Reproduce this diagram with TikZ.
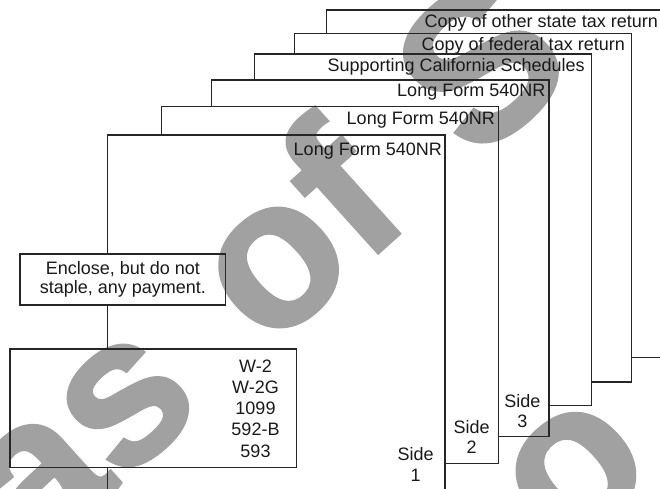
\documentclass[tikz,border=0pt]{standalone}
\usepackage{fontspec}
\setmainfont{Liberation Sans}
\newfontfamily\wmfont{Liberation Sans}[WordSpace=1.4, BoldFeatures={FakeBold=1.5}]
\begin{document}
\begin{tikzpicture}[x=1pt, y=-1pt,
    page/.style={line width=1.1pt, draw=black!85},
    pagetext/.style={font=\fontsize{18}{21}\selectfont, text=black!90, inner sep=0pt, anchor=base east},
    sidetext/.style={font=\fontsize{18}{20.5}\selectfont, text=black!90, inner sep=0pt, anchor=north, align=center},
    infobox/.style={draw=black!85, line width=1.1pt, text=black!90, align=center},
    watermark/.style={font=\fontsize{210}{210}\selectfont\wmfont\bfseries, text=black!37, rotate=42, inner sep=0pt}]
    \useasboundingbox (0,0) rectangle (660,488);
    \clip (0,0) rectangle (660,488);

    % Wasserzeichen
    \node[watermark] (wm1) at (257,261) {as of S};
    \node[watermark] (wm2) at (576,473) {o};

    % Blatt 6 (hinten)
    \draw[page] (326.7,33.3) -- (326.7,10) -- (665,10) -- (665,357.3) -- (631.7,357.3);
    \node[pagetext] (t6) at (658,27) {Copy of other state tax return};

    % Blatt 5
    \draw[page] (294.3,54) -- (294.3,33.3) -- (631.7,33.3) -- (631.7,382) -- (591.7,382);
    \node[pagetext] (t5) at (625,50.5) {Copy of federal tax return};

    % Blatt 4
    \draw[page] (254.3,80) -- (254.3,54) -- (591.7,54) -- (591.7,405.7) -- (549,405.7);
    \node[pagetext] (t4) at (585,71) {Supporting California Schedules};

    % Blatt 3
    \draw[page] (211.7,106.7) -- (211.7,80) -- (549,80) -- (549,436.3) -- (498.3,436.3);
    \node[pagetext] (t3) at (545.5,96.5) {Long Form 540NR};
    \node[sidetext] (s3) at (522.3,394.1) {Side\\3};

    % Blatt 2
    \draw[page] (161.3,135) -- (161.3,106.7) -- (498.3,106.7) -- (498.3,463.3) -- (445,463.3);
    \node[pagetext] (t2) at (495,124) {Long Form 540NR};
    \node[sidetext] (s2) at (471.7,420.1) {Side\\2};

    % Blatt 1 (vorne)
    \coordinate (p1) at (107.3,135);
    \node[pagetext] (t1) at (442,155) {Long Form 540NR};
    \node[sidetext] (s1) at (415.7,447.5) {Side\\1};

    % Hinweis und Formulare
    \node[infobox, font=\fontsize{18}{19}\selectfont, minimum width=205.7, minimum height=51] (enclose) at (122.85,279.5) {Enclose, but do not\\staple, any payment.};
    \node[infobox, minimum width=286.7, minimum height=118.3] (formbox) at (153.35,408.15) {};
    \node[sidetext, font=\fontsize{18}{21.25}\selectfont] (formlist) at (255.5,359.4) {W-2\\W-2G\\1099\\592-B\\593};

    \draw[page] (p1 |- enclose.north) -- (p1) -- (445,135) -- (445,495);
    \draw[page] (enclose.south -| p1) -- (formbox.north -| p1);
    \draw[page] (formbox.south -| p1) -- (107.3,495);
\end{tikzpicture}
\end{document}
